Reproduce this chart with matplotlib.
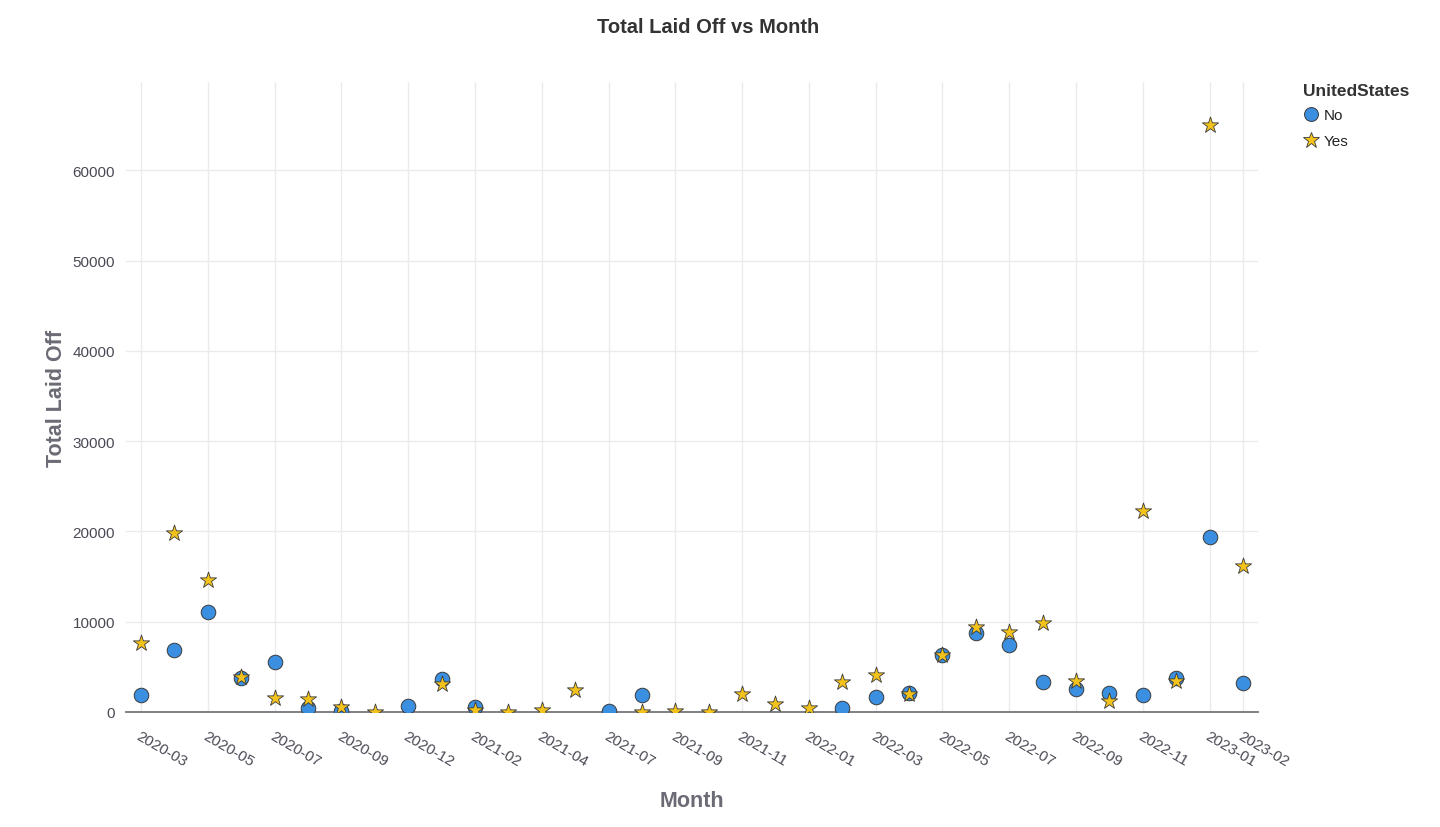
import matplotlib.pyplot as plt
import numpy as np
from matplotlib.lines import Line2D

plt.rcParams["font.family"] = ["Liberation Sans", "DejaVu Sans"]

# months present in the data (categorical axis)
months = [
    "2020-03", "2020-04", "2020-05", "2020-06", "2020-07", "2020-08",
    "2020-09", "2020-11", "2020-12", "2021-01", "2021-02", "2021-03",
    "2021-04", "2021-06", "2021-07", "2021-08", "2021-09", "2021-10",
    "2021-11", "2021-12", "2022-01", "2022-02", "2022-03", "2022-04",
    "2022-05", "2022-06", "2022-07", "2022-08", "2022-09", "2022-10",
    "2022-11", "2022-12", "2023-01", "2023-02",
]

# total laid off outside the US (None = no data that month)
laid_off_no = [
    1850, 6900, 11070, 3760, 5530, 480,
    70, None, 630, 3650, 550, None,
    None, None, 70, 1880, None, None,
    None, None, None, 440, 1660, 2140,
    6310, 8710, 7450, 3320, 2550, 2100,
    1880, 3800, 19370, 3170,
]

# total laid off in the US
laid_off_yes = [
    7600, 19780, 14610, 3870, 1550, 1440,
    520, 30, None, 3100, 260, 20,
    220, 2400, None, 50, 70, 20,
    1990, 890, 440, 3280, 4100, 1960,
    6270, 9370, 8820, 9850, 3430, 1180,
    22250, 3390, 65000, 16200,
]

tick_idx = list(range(0, len(months), 2)) + [len(months) - 1]

fig = plt.figure(figsize=(14.4, 8.28), dpi=100)
ax = fig.add_axes([0.0875, 0.1389, 0.7861, 0.7609])

x = np.arange(len(months))
no_vals = np.array([np.nan if v is None else v for v in laid_off_no], dtype=float)
yes_vals = np.array([np.nan if v is None else v for v in laid_off_yes], dtype=float)

blue = "#3b8fe0"
gold = "#f3c31b"
edge = "#3a3a3a"

ax.scatter(x, no_vals, s=110, marker="o", color=blue, edgecolors=edge,
           linewidths=0.7, zorder=3)
ax.scatter(x, yes_vals, s=150, marker="*", color=gold, edgecolors=edge,
           linewidths=0.6, zorder=4)

ax.set_xlim(-0.45, len(months) - 1 + 0.45)
ax.set_ylim(0, 69800)
ax.set_xticks(tick_idx)
ax.set_xticklabels([months[i] for i in tick_idx], rotation=-30, ha="left",
                   rotation_mode="anchor", fontsize=11, color="#4a4a55")
ax.set_yticks(range(0, 60001, 10000))
ax.set_yticklabels([str(v) for v in range(0, 60001, 10000)], fontsize=11,
                   color="#4a4a55")
ax.tick_params(axis="both", length=0)
ax.tick_params(axis="x", pad=12)
ax.tick_params(axis="y", pad=8)

for side in ["top", "right", "left"]:
    ax.spines[side].set_visible(False)
ax.spines["bottom"].set_color("#75757d")
ax.spines["bottom"].set_linewidth(1.3)

ax.grid(True, color="#ebebeb", linewidth=1.0)
ax.set_axisbelow(True)

ax.set_xlabel("Month", fontsize=15.5, fontweight="bold", color="#6b6b76",
              labelpad=15)
ax.set_ylabel("Total Laid Off", fontsize=15.5, fontweight="bold",
              color="#6b6b76", labelpad=22)
ax.yaxis.set_label_coords(-0.052, 0.5)
fig.suptitle("Total Laid Off vs Month", x=0.492, y=0.978, fontsize=14.5,
             fontweight="bold", color="#333333")

handles = [
    Line2D([], [], marker="o", linestyle="none", markersize=10,
           markerfacecolor=blue, markeredgecolor=edge, markeredgewidth=0.7,
           label="No"),
    Line2D([], [], marker="*", linestyle="none", markersize=12,
           markerfacecolor=gold, markeredgecolor=edge, markeredgewidth=0.6,
           label="Yes"),
]
leg = ax.legend(handles=handles, title="UnitedStates", loc="upper left",
                bbox_to_anchor=(1.037, 1.003), frameon=False, fontsize=11,
                title_fontproperties={"weight": "bold", "size": 12.5},
                handletextpad=0.35, labelspacing=0.8, handlelength=1.0,
                borderaxespad=0, borderpad=0.2)
leg._legend_box.align = "left"
leg._legend_box.sep = 7
for t in leg.get_texts():
    t.set_color("#222222")
leg.get_title().set_color("#333333")

fig.savefig("out.png", dpi=100)
